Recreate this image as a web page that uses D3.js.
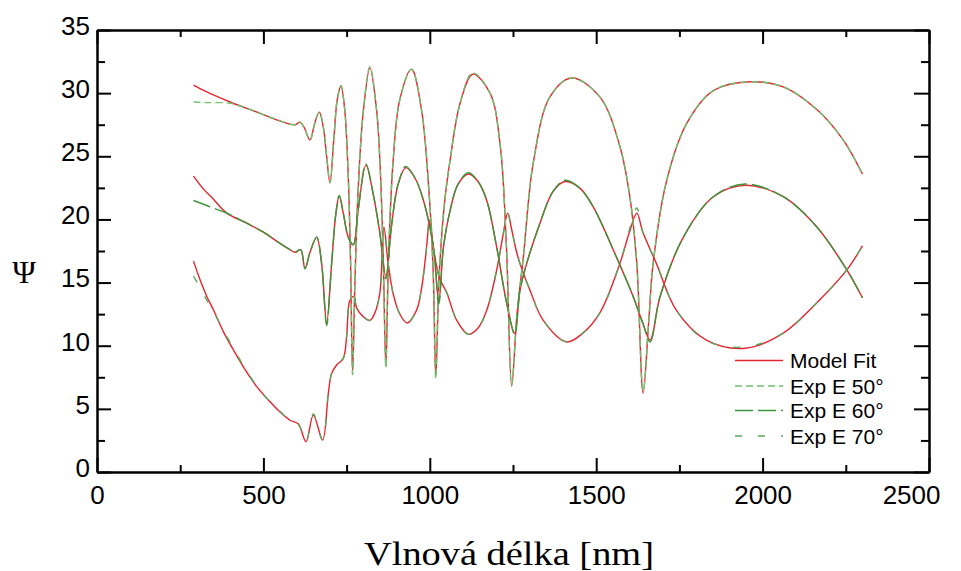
<!DOCTYPE html>
<html>
<head>
<meta charset="utf-8">
<script src="https://cdn.jsdelivr.net/npm/d3@7"></script>
<style>
  html, body { margin: 0; padding: 0; background: #fff; }
  svg { display: block; }
</style>
</head>
<body>
<svg id="chart" width="961" height="571"></svg>
<script>
// ---- data ----
const xTicks = [0, 500, 1000, 1500, 2000, 2500];
const xMinorTicks = [250, 750, 1250, 1750, 2250];
const yTicks = [0, 5, 10, 15, 20, 25, 30, 35];
const yMinorTicks = [2.5, 7.5, 12.5, 17.5, 22.5, 27.5, 32.5];
const legendLabels = ["Model Fit", "Exp E 50°", "Exp E 60°", "Exp E 70°"];

// curve at 50° (top)
const nm50 = [290,330,400,450,500,550,595,610,622,640,655,668,680,690,700,712,722,733,744,755,762,768,775,785,800,820,840,850,860,868,876,890,910,945,975,998,1010,1018,1028,1045,1061,1091,1129,1181,1211,1230,1246,1262,1281,1311,1361,1426,1511,1571,1601,1622,1641,1658,1671,1712,1772,1852,1962,2062,2163,2242,2300];
const fit50 = [30.64,30.1,29.3,28.8,28.3,27.8,27.5,27.7,27.3,26.3,27.7,28.5,27.3,25.0,22.9,26.5,29.5,30.56,28.8,23.4,16.5,7.8,15.0,22.5,28.5,32.0,28.7,24.7,17.0,8.4,17.0,24.7,29.5,31.9,28.7,22.0,16.0,7.55,15.5,21.5,24.7,29.2,31.5,30.0,26.0,18.0,6.8,12.5,17.0,24.5,29.7,31.2,29.7,25.8,21.8,16.5,6.25,12.0,16.5,23.1,27.6,30.2,30.9,30.5,28.7,26.3,23.6];
const exp50 = [29.3,29.25,29.2,28.8,28.3,27.8,27.5,27.7,27.3,26.3,27.7,28.5,27.3,25.0,22.9,26.5,29.5,30.6,28.8,23.4,16.5,7.7,15.0,22.5,28.5,32.1,28.7,24.7,17.0,8.3,17.0,24.7,29.5,31.9,28.7,22.0,16.0,7.4,15.5,21.5,24.7,29.2,31.6,30.0,26.0,18.0,6.9,12.5,17.0,24.5,29.7,31.2,29.7,25.8,21.8,16.5,6.4,12.0,16.5,23.1,27.6,30.2,30.9,30.5,28.7,26.3,23.6];

// curve at 60° (middle)
const nm60 = [290,320,350,390,450,500,550,580,595,612,625,640,660,675,690,705,718,728,740,755,770,785,808,830,850,868,885,905,928,955,981,1011,1027,1041,1061,1085,1116,1145,1171,1201,1230,1255,1271,1291,1331,1370,1406,1450,1491,1561,1611,1640,1662,1692,1762,1852,1947,2062,2163,2253,2300];
const fit60 = [23.43,22.4,21.6,20.5,19.7,19.0,18.1,17.6,17.4,17.6,16.1,17.4,18.6,16.5,11.8,16.5,20.5,21.85,20.5,18.6,18.0,20.8,24.3,22.0,18.9,15.5,19.5,22.8,24.1,23.3,21.5,17.8,13.5,17.8,20.7,22.8,23.6,23.0,21.5,17.8,13.5,11.0,14.4,16.5,19.7,22.2,23.0,22.5,21.0,17.0,13.9,11.8,10.45,13.9,18.6,21.8,22.7,21.8,19.4,16.0,13.8];
const exp60 = [21.5,21.2,20.9,20.5,19.7,19.0,18.1,17.6,17.4,17.6,16.1,17.4,18.6,16.5,11.6,16.5,20.5,21.9,20.5,18.6,18.0,20.8,24.4,22.0,18.9,15.3,19.5,22.8,24.2,23.3,21.5,17.8,13.3,17.8,20.7,22.8,23.7,23.0,21.5,17.8,13.5,10.9,14.4,16.5,19.7,22.2,23.1,22.5,21.0,17.0,13.9,11.8,10.3,13.9,18.6,21.8,22.8,21.8,19.4,16.0,13.8];

// curve at 70° (bottom)
const nm70 = [290,310,330,350,380,410,445,480,515,550,580,605,628,650,678,695,705,720,740,750,760,772,780,800,820,835,850,862,875,890,910,932,960,975,988,1000,1012,1030,1051,1081,1116,1145,1171,1201,1221,1234,1246,1260,1271,1301,1341,1411,1460,1511,1571,1600,1622,1640,1681,1741,1831,1948,2062,2163,2253,2300];
const fit70 = [16.7,15.2,13.9,12.83,11.1,9.66,8.1,6.76,5.7,4.75,4.1,3.8,2.4,4.5,2.53,6.23,7.8,8.47,9.0,10.7,13.6,13.9,13.0,12.3,12.0,12.6,14.2,19.4,16.5,14.1,12.5,11.8,12.8,14.5,17.2,19.95,17.5,15.3,14.2,12.0,10.9,11.4,12.8,16.0,18.9,20.5,19.2,17.5,16.5,14.4,12.0,10.3,11.0,12.6,16.5,19.0,20.5,19.0,16.5,12.8,10.45,9.8,11.0,13.4,16.0,17.9];
const exp70 = [15.5,14.6,13.6,12.7,11.2,9.8,8.2,6.8,5.7,4.8,4.1,3.8,2.4,4.6,2.5,6.2,7.8,8.5,9.0,10.7,13.6,13.9,13.0,12.3,12.0,12.6,14.2,19.4,16.5,14.1,12.5,11.8,12.8,14.5,17.2,20.3,17.5,15.3,14.2,12.0,10.9,11.4,12.8,16.0,18.9,20.5,19.2,17.5,16.5,14.4,12.0,10.3,11.0,12.6,16.5,19.2,20.9,19.0,16.5,12.8,10.4,9.9,11.0,13.4,16.0,17.9];

// ---- layout / style ----
const M = { left: 97, right: 929, top: 30, bottom: 472 };
const RED = "#e3262d";
const expStyles = [
  { color: "#6fbf6f", dash: "7,4" },     // 50°
  { color: "#3c963c", dash: "18,5" },    // 60°
  { color: "#5ea65e", dash: "7,16" }     // 70°
];
const sansFont = "Arial, 'Liberation Sans', Helvetica, sans-serif";
const serifFont = "'Times New Roman', 'Liberation Serif', Times, serif";

const svg = d3.select("#chart");
const x = d3.scaleLinear().domain([0, 2500]).range([M.left, M.right]);
const y = d3.scaleLinear().domain([0, 35]).range([M.bottom, M.top]);

const zip = (xs, ys) => xs.map((v, i) => [v, ys[i]]);
const line = d3.line().x(d => x(d[0])).y(d => y(d[1])).curve(d3.curveCatmullRom.alpha(0.5));

const fits = [zip(nm50, fit50), zip(nm60, fit60), zip(nm70, fit70)];
const exps = [zip(nm50, exp50), zip(nm60, exp60), zip(nm70, exp70)];

const gLines = svg.append("g");
fits.forEach(d => {
  gLines.append("path").attr("d", line(d))
    .attr("fill", "none").attr("stroke", RED).attr("stroke-width", 1.4);
});
exps.forEach((d, i) => {
  gLines.append("path").attr("d", line(d))
    .attr("fill", "none").attr("stroke", expStyles[i].color)
    .attr("stroke-width", 1.4).attr("stroke-dasharray", expStyles[i].dash);
});

// ---- axes (ticks inward on all four sides) ----
function styleAxis(g) {
  g.selectAll("path.domain").attr("stroke", "#000").attr("stroke-width", 2);
  g.selectAll(".tick line").attr("stroke", "#000").attr("stroke-width", 2);
  g.selectAll("text").attr("fill", "#000").style("font-family", sansFont).style("font-size", "26px");
}

// bottom
const gB = svg.append("g").attr("transform", `translate(0,${M.bottom})`)
  .call(d3.axisBottom(x).tickValues(xTicks).tickSize(-14).tickSizeOuter(0).tickPadding(14).tickFormat(d3.format("d")));
styleAxis(gB);
gB.selectAll(".tick text").filter(d => d === 2500).attr("text-anchor", "end").attr("x", 11);
const gBm = svg.append("g").attr("transform", `translate(0,${M.bottom})`)
  .call(d3.axisBottom(x).tickValues(xMinorTicks).tickSize(-7).tickSizeOuter(0).tickFormat(""));
styleAxis(gBm);

// top
const gT = svg.append("g").attr("transform", `translate(0,${M.top})`)
  .call(d3.axisTop(x).tickValues(xTicks).tickSize(-14).tickSizeOuter(0).tickFormat(""));
styleAxis(gT);
const gTm = svg.append("g").attr("transform", `translate(0,${M.top})`)
  .call(d3.axisTop(x).tickValues(xMinorTicks).tickSize(-7).tickSizeOuter(0).tickFormat(""));
styleAxis(gTm);

// left
const gL = svg.append("g").attr("transform", `translate(${M.left},0)`)
  .call(d3.axisLeft(y).tickValues(yTicks).tickSize(-14).tickSizeOuter(0).tickPadding(7).tickFormat(d3.format("d")));
styleAxis(gL);
gL.selectAll(".tick text").attr("dy", "0.32em").attr("y", -4);
const gLm = svg.append("g").attr("transform", `translate(${M.left},0)`)
  .call(d3.axisLeft(y).tickValues(yMinorTicks).tickSize(-8).tickSizeOuter(0).tickFormat(""));
styleAxis(gLm);

// right
const gR = svg.append("g").attr("transform", `translate(${M.right},0)`)
  .call(d3.axisRight(y).tickValues(yTicks).tickSize(-15).tickSizeOuter(0).tickFormat(""));
styleAxis(gR);
const gRm = svg.append("g").attr("transform", `translate(${M.right},0)`)
  .call(d3.axisRight(y).tickValues(yMinorTicks).tickSize(-8).tickSizeOuter(0).tickFormat(""));
styleAxis(gRm);

// ---- axis titles ----
svg.append("text")
  .attr("x", (M.left + M.right) / 2 - 4).attr("y", 565)
  .attr("text-anchor", "middle")
  .attr("textLength", 290).attr("lengthAdjust", "spacingAndGlyphs")
  .style("font-family", serifFont).style("font-size", "33px").attr("fill", "#000")
  .text("Vlnová délka [nm]");

svg.append("text")
  .attr("x", 24).attr("y", 283)
  .attr("text-anchor", "middle")
  .style("font-family", serifFont).style("font-size", "32px").attr("fill", "#000")
  .text("Ψ");

// ---- legend ----
const legY = [360.5, 386, 410.5, 436];
const gLeg = svg.append("g");
legendLabels.forEach((lab, i) => {
  const ln = gLeg.append("line")
    .attr("x1", 735).attr("x2", 783).attr("y1", legY[i]).attr("y2", legY[i])
    .attr("stroke-width", 1.5);
  if (i === 0) ln.attr("stroke", RED);
  else ln.attr("stroke", expStyles[i - 1].color).attr("stroke-dasharray", expStyles[i - 1].dash);
  gLeg.append("text")
    .attr("x", 790).attr("y", legY[i]).attr("dy", "0.36em")
    .style("font-family", sansFont).style("font-size", "21px").attr("fill", "#000")
    .text(lab);
});
</script>
</body>
</html>
